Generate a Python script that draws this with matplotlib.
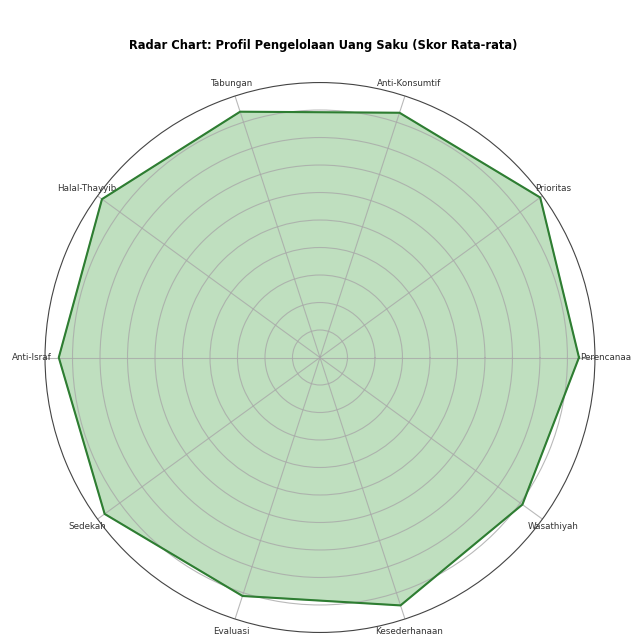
import matplotlib
matplotlib.use('Agg')
import matplotlib.pyplot as plt
import numpy as np

# skor rata-rata tiap aspek (skala 0-5)
categories = ['Perencanaan', 'Prioritas', 'Anti-Konsumtif', 'Tabungan',
              'Halal-Thayyib', 'Anti-Israf', 'Sedekah', 'Evaluasi',
              'Kesederhanaan', 'Wasathiyah']
scores = [4.71, 4.95, 4.68, 4.70, 4.90, 4.75, 4.84, 4.56, 4.74, 4.55]
rticks = [0.5, 1.0, 1.5, 2.0, 2.5, 3.0, 3.5, 4.0, 4.5]


def main():
    n = len(categories)
    angles = np.linspace(0, 2 * np.pi, n, endpoint=False).tolist()
    values = scores + scores[:1]
    angles_closed = angles + angles[:1]

    fig = plt.figure(figsize=(6.31, 6.35), dpi=100)
    ax = fig.add_axes([0.0713, 0.004, 0.8716, 0.866], polar=True)

    ax.plot(angles_closed, values, color='#2e7d32', linewidth=1.5)
    ax.fill(angles_closed, values, color='green', alpha=0.25)

    ax.set_xticks(angles)
    ax.set_xticklabels(categories, fontsize=6.3, color='#333333')
    ax.tick_params(axis='x', pad=-1)
    ax.set_ylim(0, 5)
    ax.set_yticks(rticks)
    ax.set_yticklabels([])
    ax.grid(color='#a8a8a8', linewidth=0.8, alpha=0.8)
    ax.spines['polar'].set_color('#444444')
    ax.spines['polar'].set_linewidth(0.8)

    fig.text(0.512, 0.929, 'Radar Chart: Profil Pengelolaan Uang Saku (Skor Rata-rata)',
             ha='center', va='center', fontsize=8.3, fontweight='bold')

    fig.savefig('out.png', dpi=100)


main()
